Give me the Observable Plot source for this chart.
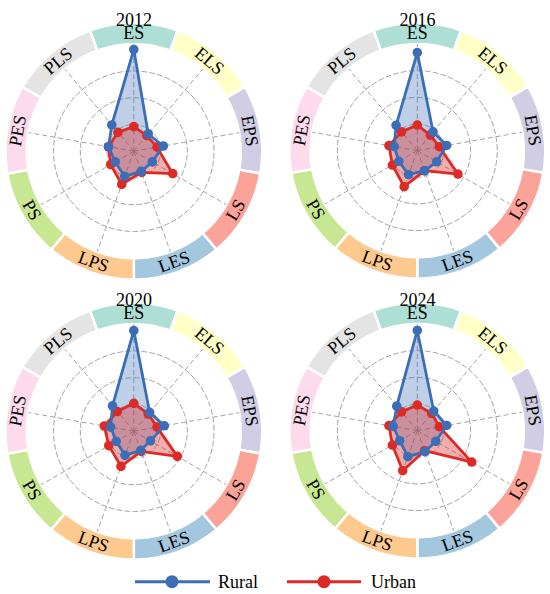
<!DOCTYPE html>
<html><head><meta charset="utf-8">
<script src="https://cdn.jsdelivr.net/npm/d3@7"></script>
<script src="https://cdn.jsdelivr.net/npm/@observablehq/plot@0.6"></script>
<style>
body{margin:0;background:#fff;}
#wrap{position:relative;width:550px;height:594px;overflow:hidden;font-family:"Liberation Serif","Times New Roman",serif;}
.panel{position:absolute;}
.panel svg{overflow:visible;}
#legend{position:absolute;left:0;top:566px;}
</style></head><body><div id="wrap"></div>
<script>
// ---- data ----
const categories = ["ES","ELS","EPS","LS","LES","LPS","PS","PES","PLS"];
const years = ["2012","2016","2020","2024"];
const rural2012 = [0.95, 0.21, 0.28, 0.20, 0.20, 0.25, 0.20, 0.24, 0.32];
const urban2012 = [0.23, 0.19, 0.22, 0.42, 0.21, 0.33, 0.25, 0.24, 0.23];
const rural2016 = [0.92, 0.23, 0.28, 0.21, 0.20, 0.24, 0.20, 0.22, 0.31];
const urban2016 = [0.24, 0.19, 0.21, 0.44, 0.20, 0.36, 0.27, 0.27, 0.23];
const rural2020 = [0.94, 0.23, 0.29, 0.18, 0.19, 0.24, 0.19, 0.22, 0.31];
const urban2020 = [0.26, 0.21, 0.22, 0.47, 0.20, 0.35, 0.27, 0.28, 0.24];
const rural2024 = [0.94, 0.24, 0.28, 0.20, 0.21, 0.26, 0.19, 0.23, 0.30];
const urban2024 = [0.24, 0.21, 0.21, 0.59, 0.20, 0.40, 0.27, 0.27, 0.23];
const ruralByYear = [rural2012, rural2016, rural2020, rural2024];
const urbanByYear = [urban2012, urban2016, urban2020, urban2024];
const seriesNames = ["Rural","Urban"];
const seriesColors = ["#3b6eb6","#dc2b27"];
const ringColors = ["#8dd3c7","#ffffb3","#bebada","#fb8072","#80b1d3","#fdb462","#b3de69","#fccde5","#d9d9d9"];
const gridLevels = [0.25, 0.5, 0.75];
const ringInner = 1.0, ringOuter = 1.2, labelRadius = 1.1;

// ---- geometry helpers ----
const K = 107;            // pixels per unit radius
const W = 267, H = 280;
const cx = 133.3, cy = 150.7;
const step = 360 / categories.length;
const rad = a => a * Math.PI / 180;
const px = (r, a) => r * Math.sin(rad(a));
const py = (r, a) => r * Math.cos(rad(a));

const ringPts = [];
categories.forEach((c, i) => {
  const a0 = i * step - step / 2, a1 = i * step + step / 2;
  for (let a = a0; a <= a1 + 1e-9; a += 1) ringPts.push({c, color: ringColors[i], x: px(ringOuter, a), y: py(ringOuter, a)});
  for (let a = a1; a >= a0 - 1e-9; a -= 1) ringPts.push({c, color: ringColors[i], x: px(ringInner, a), y: py(ringInner, a)});
});
const gridPts = [];
gridLevels.forEach(l => { for (let a = 0; a < 360; a += 3) gridPts.push({l, x: px(l, a), y: py(l, a)}); });

function seriesPts(values, name) {
  return values.map((v, i) => ({name, cat: categories[i], x: px(v, i * step), y: py(v, i * step)}));
}

const wrap = document.getElementById("wrap");
const positions = [[0, 0], [284, 0], [0, 280], [284, 280]];
const FONT = "'Liberation Serif', 'Times New Roman', serif";

years.forEach((year, k) => {
  const rural = seriesPts(ruralByYear[k], "Rural");
  const urban = seriesPts(urbanByYear[k], "Urban");
  const chart = Plot.plot({
    width: W, height: H,
    marginLeft: 0, marginRight: 0, marginTop: 0, marginBottom: 0,
    x: {domain: [-cx / K, (W - cx) / K], axis: null},
    y: {domain: [-(H - cy) / K, cy / K], axis: null},
    color: {type: "identity"},
    style: {fontFamily: FONT, overflow: "visible", background: "transparent"},
    marks: [
      Plot.line(ringPts, {x: "x", y: "y", z: "c", fill: "color", fillOpacity: 0.72, stroke: "white", strokeWidth: 2.5, curve: "linear-closed"}),
      Plot.line(gridPts, {x: "x", y: "y", z: "l", stroke: "#a3a3a3", strokeWidth: 1, strokeDasharray: "5,3", curve: "linear-closed"}),
      Plot.link(categories, {x1: () => 0, y1: () => 0, x2: (d, i) => px(ringInner, i * step), y2: (d, i) => py(ringInner, i * step), stroke: "#a3a3a3", strokeWidth: 1, strokeDasharray: "5,3"}),
      Plot.line(rural, {x: "x", y: "y", fill: seriesColors[0], fillOpacity: 0.33, stroke: "none", curve: "linear-closed"}),
      Plot.line(urban, {x: "x", y: "y", fill: seriesColors[1], fillOpacity: 0.38, stroke: "none", curve: "linear-closed"}),
      Plot.line(urban, {x: "x", y: "y", stroke: seriesColors[1], strokeWidth: 2.8, curve: "linear-closed"}),
      Plot.dot(urban, {x: "x", y: "y", fill: seriesColors[1], r: 4.8}),
      Plot.line(rural, {x: "x", y: "y", stroke: seriesColors[0], strokeWidth: 2.8, curve: "linear-closed"}),
      Plot.dot(rural, {x: "x", y: "y", fill: seriesColors[0], r: 4.8}),
      Plot.text(categories, {
        x: (d, i) => px(labelRadius, i * step), y: (d, i) => py(labelRadius, i * step),
        text: d => d,
        rotate: (d, i) => { const a = i * step; return (a > 90 && a < 270) ? a - 180 : (a >= 270 ? a - 360 : a); },
        fontSize: 18, fill: "#000"
      }),
      Plot.text([year], {frameAnchor: "top", dy: 13, text: d => d, fontSize: 18, fill: "#000"})
    ]
  });
  const div = document.createElement("div");
  div.className = "panel";
  div.style.left = positions[k][0] + "px";
  div.style.top = positions[k][1] + "px";
  div.appendChild(chart);
  wrap.appendChild(div);
});

// ---- legend ----
const legendItems = [
  {name: seriesNames[0], color: seriesColors[0], x1: 135, x2: 210, mx: 172, tx: 218},
  {name: seriesNames[1], color: seriesColors[1], x1: 287, x2: 361, mx: 324, tx: 371}
];
const ns = "http://www.w3.org/2000/svg";
const leg = document.createElementNS(ns, "svg");
leg.setAttribute("id", "legend");
leg.setAttribute("width", 550);
leg.setAttribute("height", 28);
legendItems.forEach(it => {
  const line = document.createElementNS(ns, "line");
  line.setAttribute("x1", it.x1); line.setAttribute("x2", it.x2);
  line.setAttribute("y1", 15.7); line.setAttribute("y2", 15.7);
  line.setAttribute("stroke", it.color); line.setAttribute("stroke-width", 3);
  leg.appendChild(line);
  const c = document.createElementNS(ns, "circle");
  c.setAttribute("cx", it.mx); c.setAttribute("cy", 15.7); c.setAttribute("r", 6.5);
  c.setAttribute("fill", it.color);
  leg.appendChild(c);
  const t = document.createElementNS(ns, "text");
  t.setAttribute("x", it.tx); t.setAttribute("y", 15.7);
  t.setAttribute("dy", "0.34em");
  t.setAttribute("font-size", 18);
  t.setAttribute("font-family", FONT);
  t.setAttribute("fill", "#000");
  t.textContent = it.name;
  leg.appendChild(t);
});
wrap.appendChild(leg);
</script>
</body></html>
